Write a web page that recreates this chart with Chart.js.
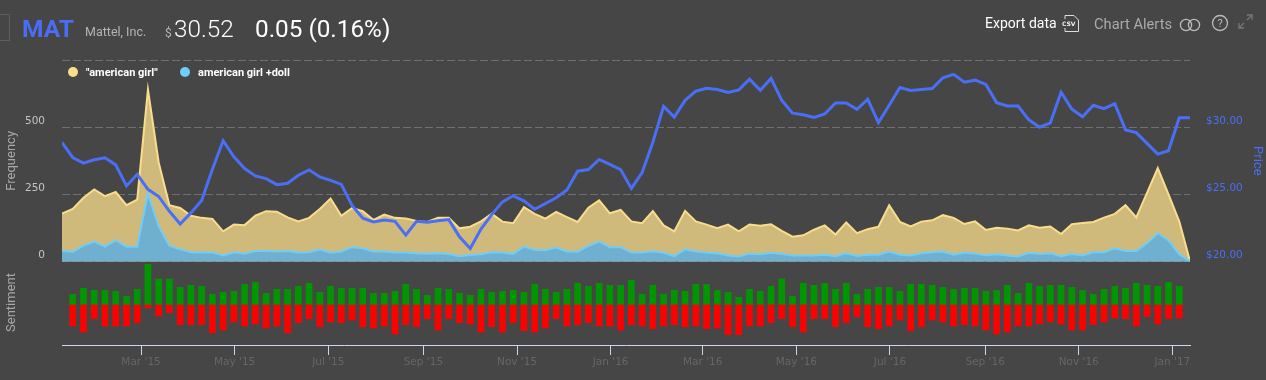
<!DOCTYPE html>
<html>
<head>
<meta charset="utf-8">
<title>MAT</title>
<script src="https://cdn.jsdelivr.net/npm/chart.js@4/dist/chart.umd.min.js"></script>
<style>
  html, body { margin: 0; padding: 0; background: #464646; overflow: hidden; }
  #page { position: relative; width: 1266px; height: 380px; font-family: Roboto, sans-serif; }
  #page > * { position: absolute; white-space: nowrap; }
  #topChart { left: 0; top: 0; width: 1266px; height: 285px; }
  #bottomChart { left: 0; top: 260px; width: 1266px; height: 120px; }
  .legend-dot { width: 10px; height: 10px; border-radius: 50%; top: 67px; }
  .legend-text { top: 66px; font: bold 11px Roboto, sans-serif; color: #fff; }
</style>
</head>
<body>
<div id="page">
  <div id="topChart"><canvas id="topCanvas"></canvas></div>
  <div id="bottomChart"><canvas id="bottomCanvas"></canvas></div>

  <div style="left:-1px;top:14px;width:9px;height:25px;border:1px solid #5e5e5e"></div>
  <div style="left:22px;top:14px;font-size:24.5px;font-weight:700;color:#4a6cf7">MAT</div>
  <div style="left:85px;top:24px;font-size:12.5px;color:#b4b4b4">Mattel, Inc.</div>
  <div style="left:165px;top:26px;font-size:12px;color:#b4b4b4">$</div>
  <div style="left:174px;top:14px;font-size:24.3px;font-weight:300;color:#fff">30.52</div>
  <div style="left:255px;top:14px;font-size:24.3px;color:#fff">0.05 (0.16%)</div>

  <div style="left:985px;top:15px;font-size:14px;color:#fff">Export data</div>
  <svg style="left:1062px;top:14px" width="18" height="19" viewBox="0 0 18 19" fill="none" stroke="#ddd">
    <path d="M3 5V1.5H12L16.5 6V17.5H3V14"/>
    <text x="0" y="11.5" font-family="DejaVu Sans" font-size="6" font-weight="bold" fill="#eee" stroke="none">CSV</text>
  </svg>
  <div style="left:1094px;top:15px;font-size:14.7px;color:#aaa">Chart Alerts</div>
  <svg style="left:1179px;top:18px" width="23" height="14" viewBox="0 0 23 14" fill="none" stroke="#bbb" stroke-width="1.3">
    <circle cx="7" cy="7" r="5.6"/><circle cx="15" cy="7" r="5.6"/>
  </svg>
  <svg style="left:1211px;top:14px" width="18" height="18" viewBox="0 0 18 18" fill="none" stroke="#bbb" stroke-width="1.3">
    <circle cx="9" cy="9" r="7.5"/>
    <text x="9" y="13" text-anchor="middle" font-family="Roboto" font-size="11" fill="#bbb" stroke="none">?</text>
  </svg>
  <svg style="left:1238px;top:14px" width="15" height="15" viewBox="0 0 15 15" fill="none" stroke="#777" stroke-width="1.3">
    <path d="M9 1H14V6M14 1L9 6M1 9V14H6M1 14L6 9"/>
  </svg>

  <div class="legend-dot" id="legendDot0" style="left:68px"></div>
  <div class="legend-text" id="legendText0" style="left:86px"></div>
  <div class="legend-dot" id="legendDot1" style="left:180px"></div>
  <div class="legend-text" id="legendText1" style="left:198px"></div>
</div>

<script>
const seriesNames = ['"american girl"', 'american girl +doll'];

const americanGirl = [
  179, 196, 238, 269, 244, 259, 210, 231, 640, 369, 210, 200, 171, 163, 159, 113, 138, 136,
  171, 188, 186, 165, 150, 163, 196, 235, 171, 199, 188, 155, 175, 163, 161, 151, 148, 163,
  163, 124, 130, 150, 178, 149, 143, 203, 178, 160, 185, 166, 148, 201, 228, 180, 193, 150,
  143, 188, 135, 113, 189, 150, 138, 125, 138, 113, 138, 134, 139, 115, 93, 98, 119, 135,
  101, 146, 106, 121, 130, 210, 148, 131, 149, 154, 173, 163, 140, 150, 118, 126, 123, 116,
  135, 126, 131, 103, 139, 144, 148, 164, 178, 210, 165, 256, 348, 250, 150, 2
];

const americanGirlDoll = [
  41, 36, 60, 75, 56, 80, 56, 56, 254, 131, 59, 46, 35, 34, 34, 23, 35, 30,
  40, 40, 38, 40, 34, 35, 45, 33, 38, 54, 50, 38, 38, 34, 34, 31, 30, 31,
  29, 20, 25, 28, 35, 34, 29, 56, 44, 43, 53, 38, 37, 59, 75, 54, 54, 34,
  34, 39, 33, 21, 46, 38, 34, 31, 23, 19, 30, 28, 33, 29, 23, 23, 23, 26,
  20, 31, 21, 26, 26, 38, 26, 23, 31, 35, 38, 26, 34, 30, 24, 28, 23, 19,
  33, 29, 31, 20, 29, 23, 35, 35, 50, 40, 40, 69, 106, 79, 28, 2
];

const price = [
  28.88, 27.75, 27.33, 27.58, 27.73, 27.2, 25.63, 26.5, 25.38, 24.85, 23.75, 22.8, 23.63, 24.55,
  26.88, 29, 27.8, 26.93, 26.38, 26.18, 25.73, 25.83, 26.43, 26.83, 26.3, 26.05, 25.75, 24.18,
  23.23, 22.95, 23.1, 23, 21.98, 23, 22.93, 23.05, 23.13, 21.85, 20.98, 22.43, 23.5, 24.45,
  24.9, 24.53, 23.9, 24.33, 24.75, 25.33, 26.73, 26.85, 27.6, 27.23, 26.85, 25.45, 26.63, 28.88,
  31.55, 30.75, 32, 32.68, 32.9, 32.8, 32.58, 32.78, 33.58, 32.75, 33.63, 32, 31.05, 30.93,
  30.73, 30.98, 31.8, 31.8, 31.33, 32.08, 30.35, 31.63, 32.95, 32.73, 32.8, 32.88, 33.68, 33.93,
  33.35, 33.5, 33.18, 31.83, 31.58, 31.58, 30.55, 30, 30.33, 32.6, 31.35, 30.78, 31.63, 31.38,
  31.75, 29.8, 29.6, 28.8, 28, 28.25, 30.7, 30.7
];

// sentiment starts one week after the frequency series and stops one week before its end
const sentimentPositive = [
  30, 48, 42, 42, 39, 24, 45, 120, 76, 76, 51, 57, 54, 30, 36, 39, 60, 66, 33, 45, 45, 54, 63,
  36, 54, 48, 48, 48, 33, 33, 39, 60, 45, 27, 48, 45, 33, 27, 45, 36, 39, 42, 36, 60, 45, 36,
  45, 63, 54, 63, 57, 57, 72, 30, 57, 30, 42, 39, 60, 60, 42, 36, 21, 45, 39, 54, 76, 24, 63,
  57, 63, 45, 63, 30, 45, 51, 51, 39, 60, 60, 57, 51, 45, 48, 48, 39, 42, 57, 33, 63, 54, 57,
  57, 51, 42, 30, 45, 54, 48, 63, 57, 54, 66, 54
];

const sentimentNegative = [
  -65, -83, -43, -65, -65, -65, -55, -11, -35, -25, -61, -61, -61, -85, -77, -53, -65, -59, -71, -65, -85, -55, -43,
  -67, -53, -55, -47, -67, -71, -65, -89, -61, -67, -43, -77, -43, -55, -59, -83, -67, -83, -55, -79, -83, -71, -43,
  -65, -61, -55, -65, -65, -77, -61, -65, -73, -65, -61, -67, -65, -73, -71, -91, -91, -65, -65, -55, -43, -67, -83,
  -43, -43, -67, -55, -37, -67, -73, -65, -47, -79, -67, -47, -53, -65, -61, -65, -77, -89, -83, -65, -65, -59, -53,
  -59, -77, -77, -61, -53, -41, -43, -65, -37, -59, -43, -41
];

// x axis counts weeks from the first sample
const tickWeeks = [7.36, 16.07, 24.79, 33.64, 42.36, 51.07, 59.64, 68.36, 77.07, 85.93, 94.64, 103.36];
const tickLabels = ["Mar '15", "May '15", "Jul '15", "Sep '15", "Nov '15", "Jan '16", "Mar '16", "May '16", "Jul '16", "Sep '16", "Nov '16", "Jan '17"];

const lastWeek = americanGirl.length - 1;
const blue = '#4a6ff5';
const tickFont = { family: '"DejaVu Sans", sans-serif', size: 10.5 };
const titleFont = { family: 'Roboto, sans-serif', size: 13 };

const toPoints = (values, firstWeek) => values.map((y, i) => ({ x: i + firstWeek, y }));

[['#f9dd8c', 0], ['#6fcdf7', 1]].forEach(([color, i]) => {
  document.getElementById(`legendDot${i}`).style.background = color;
  document.getElementById(`legendText${i}`).textContent = seriesNames[i];
});

new Chart(document.getElementById('topCanvas'), {
  type: 'line',
  data: {
    datasets: [
      {
        label: 'Price',
        data: toPoints(price, 0),
        yAxisID: 'yPrice',
        borderColor: blue,
        borderWidth: 3,
        pointRadius: 0,
        order: 0
      },
      {
        label: seriesNames[1],
        data: toPoints(americanGirlDoll, 0),
        yAxisID: 'yFreq',
        borderColor: '#6fcdf7',
        backgroundColor: '#6fafd0',
        borderWidth: 2,
        pointRadius: 0,
        fill: 'origin',
        order: 1
      },
      {
        label: seriesNames[0],
        data: toPoints(americanGirl, 0),
        yAxisID: 'yFreq',
        borderColor: '#f9dd8c',
        backgroundColor: '#cfba7c',
        borderWidth: 2,
        pointRadius: 0,
        fill: 'origin',
        order: 2
      }
    ]
  },
  options: {
    responsive: true,
    maintainAspectRatio: false,
    animation: false,
    layout: { autoPadding: false, padding: { top: 60, bottom: 10 } },
    plugins: { legend: { display: false }, tooltip: { enabled: false } },
    scales: {
      x: { type: 'linear', display: false, min: 0, max: lastWeek },
      yFreq: {
        position: 'left',
        min: 0,
        max: 750,
        afterFit: scale => { scale.width = 62; },
        border: { display: false, dash: [8, 3] },
        grid: { color: '#707070', drawTicks: false },
        title: { display: true, text: 'Frequency', color: '#a8a8a8', font: titleFont, padding: { top: 4, bottom: 0 } },
        ticks: {
          stepSize: 250,
          padding: 17,
          labelOffset: -6,
          color: '#c4c4c4',
          font: tickFont,
          callback: value => (value === 750 ? '' : value)
        }
      },
      yPrice: {
        position: 'right',
        min: 20,
        max: 35,
        afterFit: scale => { scale.width = 76; },
        border: { display: false },
        grid: { display: false },
        title: { display: true, text: 'Price', color: blue, font: titleFont, padding: { top: 1, bottom: 0 } },
        ticks: {
          stepSize: 5,
          padding: 8,
          labelOffset: -6,
          color: blue,
          font: tickFont,
          callback: value => (value === 35 ? '' : `$${value.toFixed(2)}`)
        }
      }
    }
  }
});

new Chart(document.getElementById('bottomCanvas'), {
  type: 'bar',
  data: {
    datasets: [
      { label: 'Positive', data: toPoints(sentimentPositive, 1), backgroundColor: '#009600', barThickness: 6, grouped: false },
      { label: 'Negative', data: toPoints(sentimentNegative, 1), backgroundColor: '#ff0000', barThickness: 6, grouped: false }
    ]
  },
  options: {
    responsive: true,
    maintainAspectRatio: false,
    animation: false,
    layout: { autoPadding: false, padding: { right: 76 } },
    plugins: { legend: { display: false }, tooltip: { enabled: false } },
    scales: {
      x: {
        type: 'linear',
        min: 0,
        max: lastWeek,
        offset: false,
        afterBuildTicks: scale => { scale.ticks = tickWeeks.map(value => ({ value })); },
        afterFit: scale => { scale.height = 35; },
        border: { color: '#ccd6eb' },
        grid: { offset: false, drawOnChartArea: false, color: '#ccd6eb', tickLength: 10 },
        ticks: {
          autoSkip: false,
          maxRotation: 0,
          padding: 1,
          color: '#666666',
          font: tickFont,
          callback: (value, index) => tickLabels[index]
        }
      },
      y: {
        min: -122,
        max: 133,
        afterFit: scale => { scale.width = 62; },
        border: { display: false },
        grid: { display: false },
        ticks: { display: false },
        title: { display: true, text: 'Sentiment', color: '#a8a8a8', font: titleFont, padding: { top: 4, bottom: 0 } }
      }
    }
  }
});
</script>
</body>
</html>
